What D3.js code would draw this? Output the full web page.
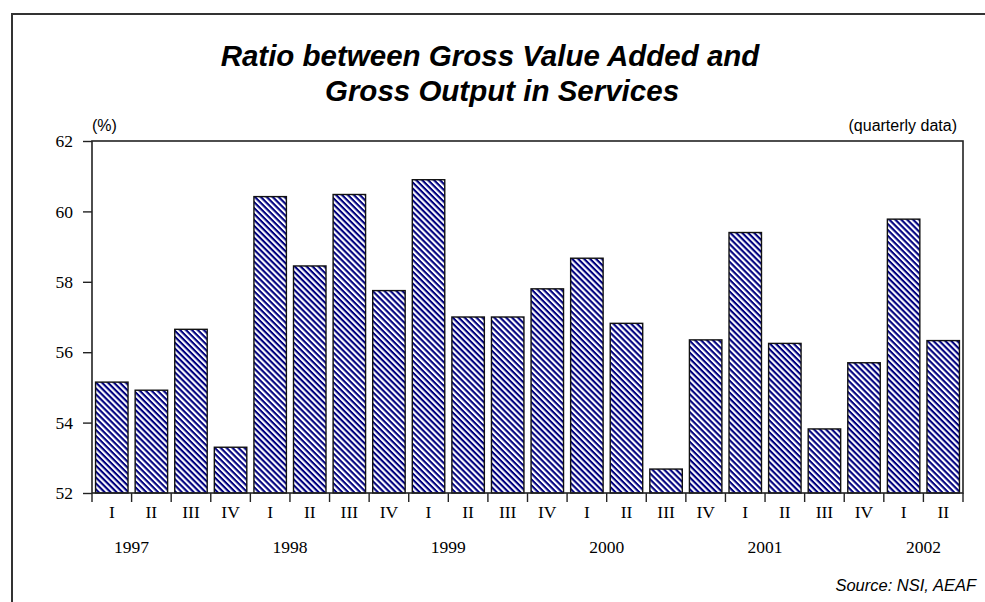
<!DOCTYPE html>
<html>
<head>
<meta charset="utf-8">
<script src="https://cdn.jsdelivr.net/npm/d3@7"></script>
<style>
  html, body { margin: 0; padding: 0; background: #fff; }
  svg { display: block; }
</style>
</head>
<body>
<svg id="chart" width="985" height="602"></svg>
<script>
// Quarterly ratio of gross value added to gross output in services (%)
const years = ["1997", "1998", "1999", "2000", "2001", "2002"];
const quarters = ["I", "II", "III", "IV", "I", "II", "III", "IV", "I", "II", "III", "IV",
                  "I", "II", "III", "IV", "I", "II", "III", "IV", "I", "II"];
const ratio = [55.15, 54.92, 56.65, 53.30,
               60.42, 58.45, 60.48, 57.75,
               60.90, 57.00, 57.00, 57.80,
               58.67, 56.82, 52.68, 56.35,
               59.40, 56.25, 53.82, 55.70,
               59.78, 56.33];
const yTicks = [52, 54, 56, 58, 60, 62];

const svg = d3.select("#chart");
const margin = { left: 92, right: 22, top: 141, bottom: 109 };
const W = 985, H = 602;
const x0 = margin.left, x1 = W - margin.right;
const y0 = H - margin.bottom, y1 = margin.top;

const idx = d3.range(ratio.length);
const x = d3.scaleBand().domain(idx).range([x0, x1]).paddingInner(0.18).paddingOuter(0.09);
const y = d3.scaleLinear().domain([52, 62]).range([y0, y1]);

const sans = "Liberation Sans, Arial, Helvetica, sans-serif";
const serif = "Liberation Serif, Times New Roman, serif";

// diagonal hatch fill (stripes running top-left to bottom-right)
const defs = svg.append("defs");
const pat = defs.append("pattern")
  .attr("id", "hatch")
  .attr("patternUnits", "userSpaceOnUse")
  .attr("width", 4.2).attr("height", 4.2)
  .attr("patternTransform", "rotate(45)");
pat.append("rect").attr("width", 4.2).attr("height", 4.2).attr("fill", "#fff");
pat.append("rect").attr("x", 0).attr("y", 0).attr("width", 4.2).attr("height", 2.1).attr("fill", "#00007f");

// outer frame
svg.append("path")
  .attr("d", `M12,${H} L12,14 L${W},14`)
  .attr("fill", "none").attr("stroke", "#333").attr("stroke-width", 2);

// title
const title = svg.append("text")
  .attr("text-anchor", "middle")
  .attr("font-family", sans)
  .attr("font-weight", "bold").attr("font-style", "italic")
  .attr("font-size", 29.5).attr("fill", "#000");
title.append("tspan").attr("x", 490).attr("y", 66).text("Ratio between Gross Value Added and");
title.append("tspan").attr("x", 502).attr("y", 101).text("Gross Output in Services");

svg.append("text").attr("x", 92).attr("y", 131)
  .attr("font-family", sans).attr("font-size", 16)
  .text("(%)");
svg.append("text").attr("x", 957).attr("y", 131).attr("text-anchor", "end")
  .attr("font-family", sans).attr("font-size", 16)
  .text("(quarterly data)");

// bars
svg.append("g").selectAll("rect").data(ratio).join("rect")
  .attr("x", (d, i) => x(i))
  .attr("y", d => y(d))
  .attr("width", x.bandwidth())
  .attr("height", d => y0 - y(d))
  .attr("fill", "url(#hatch)")
  .attr("stroke", "#111").attr("stroke-width", 1.4);

// plot box
svg.append("rect")
  .attr("x", x0).attr("y", y1).attr("width", x1 - x0).attr("height", y0 - y1)
  .attr("fill", "none").attr("stroke", "#222").attr("stroke-width", 1.6);

// y axis
const yAxis = svg.append("g").attr("transform", `translate(${x0},0)`)
  .call(d3.axisLeft(y).tickValues(yTicks).tickSize(9).tickPadding(10).tickFormat(d3.format("d")));
yAxis.select(".domain").remove();
yAxis.selectAll("line").attr("stroke", "#222").attr("stroke-width", 1.4);
yAxis.selectAll("text").attr("font-family", serif)
  .attr("font-size", 17.5).attr("fill", "#000");

// separators between quarters
const bw = (x1 - x0) / ratio.length;
const bounds = d3.range(ratio.length + 1).map(i => x0 + i * bw);
svg.append("g").selectAll("line").data(bounds).join("line")
  .attr("x1", d => d).attr("x2", d => d)
  .attr("y1", y0).attr("y2", y0 + 9)
  .attr("stroke", "#222").attr("stroke-width", 1.4);

// quarter labels
svg.append("g").selectAll("text").data(quarters).join("text")
  .attr("x", (d, i) => x(i) + x.bandwidth() / 2)
  .attr("y", 518)
  .attr("text-anchor", "middle")
  .attr("font-family", serif)
  .attr("font-size", 17.5)
  .text(d => d);

// year labels
svg.append("g").selectAll("text").data(years).join("text")
  .attr("x", (d, i) => x0 + (i * 4 + 1) * bw)
  .attr("y", 553)
  .attr("text-anchor", "middle")
  .attr("font-family", serif)
  .attr("font-size", 17.5)
  .text(d => d);

svg.append("text").attr("x", 976).attr("y", 591).attr("text-anchor", "end")
  .attr("font-family", sans).attr("font-style", "italic")
  .attr("font-size", 16.5).text("Source: NSI, AEAF");
</script>
</body>
</html>
